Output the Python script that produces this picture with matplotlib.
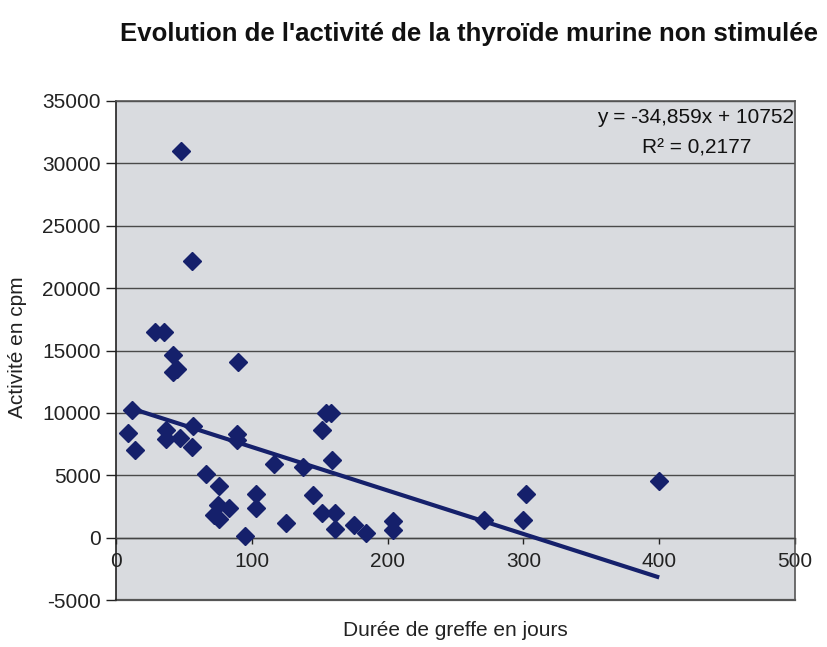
import matplotlib
matplotlib.use("Agg")
import matplotlib.pyplot as plt
import numpy as np

plt.rcParams['font.family'] = ['Liberation Sans', 'DejaVu Sans']

title = "Evolution de l'activité de la thyroïde murine non stimulée"
xlabel = "Durée de greffe en jours"
ylabel = "Activité en cpm"

days = [48, 56, 29, 35, 42, 42, 45, 90, 12, 9, 14, 37, 37, 47, 57, 56,
        89, 89, 66, 76, 72, 76, 75, 83, 95, 103, 103, 116, 125, 138, 145,
        152, 161, 161, 155, 158, 152, 159, 175, 184, 204, 204, 271, 300,
        302, 400]
activity = [31000, 22200, 16500, 16500, 14600, 13300, 13500, 14100, 10200,
            8400, 7000, 8600, 7900, 8000, 8950, 7300, 8300, 7800, 5100, 4100,
            1800, 1500, 2600, 2400, 100, 3500, 2400, 5900, 1200, 5700, 3400,
            2000, 2000, 700, 9950, 10000, 8600, 6200, 1000, 400, 1300, 600,
            1450, 1450, 3500, 4550]

slope = -34.859
intercept = 10752
equation = "y = -34,859x + 10752"
r2_text = "R\u00b2 = 0,2177"

xticks = [0, 100, 200, 300, 400, 500]
yticks = [-5000, 0, 5000, 10000, 15000, 20000, 25000, 30000, 35000]

navy = '#15206b'

fig = plt.figure(figsize=(8.28, 6.47), dpi=100)
ax = fig.add_axes([116/828, (647-600)/647, 679/828, 499/647])
ax.set_facecolor('#d9dbdf')

ax.set_xlim(0, 500)
ax.set_ylim(-5000, 35000)

ax.grid(axis='y', color='#4a4a4a', linewidth=1.0)
ax.set_axisbelow(True)

for s in ['top', 'right']:
    ax.spines[s].set_color('#555555')
    ax.spines[s].set_linewidth(1.2)
ax.spines['left'].set_color('#222222')
ax.spines['left'].set_linewidth(1.2)
ax.spines['bottom'].set_position(('data', 0))
ax.spines['bottom'].set_color('#444444')
ax.spines['bottom'].set_linewidth(1.0)
# bottom border of plot area
ax.axhline(-5000, color='#555555', linewidth=1.6, clip_on=False)

ax.set_yticks(yticks)
ax.set_xticks(xticks)
ax.set_yticklabels([str(v) for v in yticks])
ax.set_xticklabels([str(v) for v in xticks])
ax.tick_params(axis='y', direction='out', length=7, width=1, pad=4,
               colors='#222222', labelsize=15)
ax.tick_params(axis='x', direction='out', length=4, width=1, pad=6,
               colors='#222222', labelsize=15)

ax.plot(days, activity, linestyle='none', marker='D', markersize=9.5,
        color=navy, markeredgecolor=navy, zorder=3)

xs = np.array([min(days), max(days)])
ax.plot(xs, slope * xs + intercept, color=navy, linewidth=3, zorder=4,
        solid_capstyle='butt')

ax.text(0.853, 0.966, equation, transform=ax.transAxes, ha='center',
        va='center', fontsize=15, color='#111111')
ax.text(0.855, 0.906, r2_text, transform=ax.transAxes, ha='center',
        va='center', fontsize=15, color='#111111')

fig.text(469/828, 1 - 34/647, title, ha='center', va='center',
         fontsize=18.5, fontweight='bold', color='#111111')
fig.text(455/828, 1 - 631/647, xlabel, ha='center', va='center',
         fontsize=15, color='#222222')
fig.text(18/828, 1 - 347/647, ylabel, ha='center', va='center',
         fontsize=15, rotation=90, color='#222222')

fig.savefig('out.png', dpi=100)
